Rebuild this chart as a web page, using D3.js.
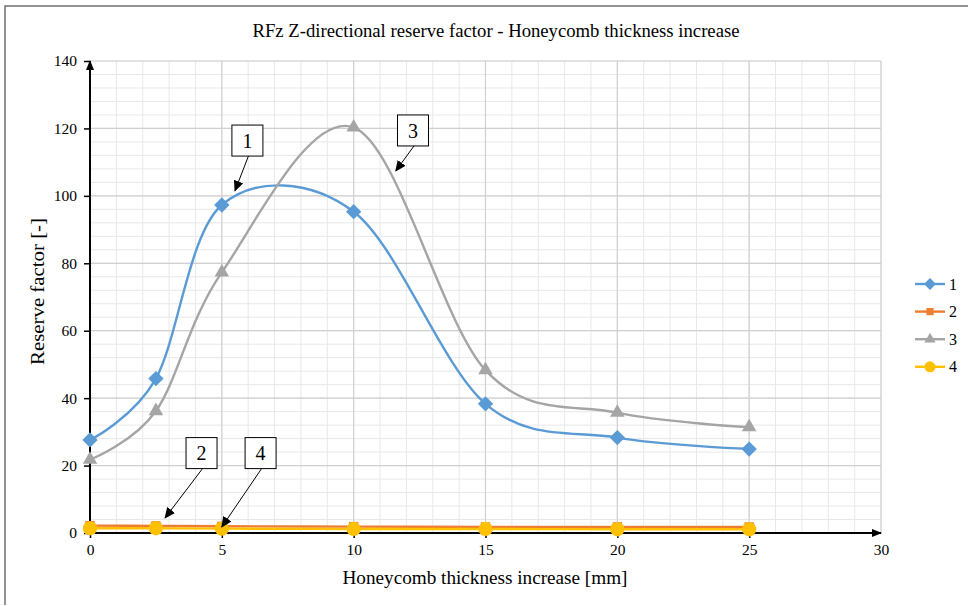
<!DOCTYPE html>
<html>
<head>
<meta charset="utf-8">
<script src="https://cdn.jsdelivr.net/npm/d3@7"></script>
<style>
  html, body { margin: 0; padding: 0; background: #fff; }
  svg { display: block; font-family: "Liberation Serif", "Times New Roman", serif; }
</style>
</head>
<body>
<svg id="chart" width="968" height="606"></svg>
<script>
// Thickness increase [mm] sampled for every case
const thickness = [0, 2.5, 5, 10, 15, 20, 25];

// Reserve factor for each case
const rf1 = [27.6, 45.8, 97.3, 95.3, 38.3, 28.3, 24.9];
const rf2 = [2.2, 2.1, 2.0, 1.9, 1.8, 1.8, 1.8];
const rf3 = [21.8, 36.2, 77.3, 120.3, 48.3, 35.7, 31.4];
const rf4 = [1.4, 1.4, 1.3, 1.2, 1.2, 1.1, 1.1];

const seriesNames = ["1", "2", "3", "4"];
const seriesColors = ["#5B9BD5", "#ED7D31", "#A5A5A5", "#FFC000"];
const seriesSymbols = [d3.symbolDiamond2, d3.symbolSquare2, d3.symbolTriangle2, d3.symbolCircle];

const xTicks = [0, 5, 10, 15, 20, 25, 30];
const yTicks = [0, 20, 40, 60, 80, 100, 120, 140];

// Callout boxes: label, box centre and arrow tip in data units
const callouts = [
  { label: "1", bx: 5.97, by: 116.4, tx: 5.5, ty: 101.5 },
  { label: "3", bx: 12.25, by: 119.4, tx: 11.6, ty: 107.4 },
  { label: "2", bx: 4.23, by: 23.7, tx: 2.85, ty: 4.5 },
  { label: "4", bx: 6.47, by: 23.7, tx: 5.0, ty: 1.8 }
];

const series = seriesNames.map((name, i) => ({
  name,
  color: seriesColors[i],
  symbol: seriesSymbols[i],
  values: [rf1, rf2, rf3, rf4][i].map((v, j) => ({ x: thickness[j], y: v }))
}));

const svg = d3.select("#chart");
const margin = { left: 90, right: 87, top: 61, bottom: 73 };
const W = 968, H = 606;

const x = d3.scaleLinear().domain([0, 30]).range([margin.left, W - margin.right]);
const y = d3.scaleLinear().domain([0, 140]).range([H - margin.bottom, margin.top]);

// Frame of the chart area (top and left edges)
svg.append("path")
  .attr("d", `M5,605 V6 H968`)
  .attr("fill", "none").attr("stroke", "#707070").attr("stroke-width", 1.5);

const defs = svg.append("defs");
defs.append("marker").attr("id", "axisHead")
  .attr("viewBox", "0 0 10 10").attr("refX", 9).attr("refY", 5)
  .attr("markerWidth", 10).attr("markerHeight", 10).attr("markerUnits", "userSpaceOnUse")
  .attr("orient", "auto")
  .append("path").attr("d", "M0,1 L10,5 L0,9 Z").attr("fill", "#000");
defs.append("marker").attr("id", "calloutHead")
  .attr("viewBox", "0 0 10 10").attr("refX", 9).attr("refY", 5)
  .attr("markerWidth", 11).attr("markerHeight", 11).attr("markerUnits", "userSpaceOnUse")
  .attr("orient", "auto")
  .append("path").attr("d", "M0,0.5 L10,5 L0,9.5 Z").attr("fill", "#000");

// Minor grid
const grid = svg.append("g");
grid.selectAll("line.mx").data(d3.range(0, 31, 1)).join("line")
  .attr("x1", d => x(d)).attr("x2", d => x(d))
  .attr("y1", y(0)).attr("y2", y(140))
  .attr("stroke", "#E8E8E8").attr("stroke-width", 1);
grid.selectAll("line.my").data(d3.range(0, 141, 4)).join("line")
  .attr("x1", x(0)).attr("x2", x(30))
  .attr("y1", d => y(d)).attr("y2", d => y(d))
  .attr("stroke", "#E8E8E8").attr("stroke-width", 1);
// Major grid
grid.selectAll("line.Mx").data(xTicks).join("line")
  .attr("x1", d => x(d)).attr("x2", d => x(d))
  .attr("y1", y(0)).attr("y2", y(140))
  .attr("stroke", "#D0D0D0").attr("stroke-width", 1.2);
grid.selectAll("line.My").data(yTicks).join("line")
  .attr("x1", x(0)).attr("x2", x(30))
  .attr("y1", d => y(d)).attr("y2", d => y(d))
  .attr("stroke", "#D0D0D0").attr("stroke-width", 1.2);

// Axes
const xAxis = d3.axisBottom(x).tickValues(xTicks).tickSize(5).tickPadding(6).tickFormat(d3.format("d"));
const yAxis = d3.axisLeft(y).tickValues(yTicks).tickSize(6).tickPadding(7).tickFormat(d3.format("d"));

const gx = svg.append("g").attr("transform", `translate(0,${y(0)})`).call(xAxis);
const gy = svg.append("g").attr("transform", `translate(${x(0)},0)`).call(yAxis);
[gx, gy].forEach(g => {
  g.select(".domain").remove();
  g.selectAll(".tick line").attr("stroke", "#000").attr("stroke-width", 1.5);
  g.selectAll(".tick text").attr("fill", "#000")
    .style("font-family", "'Liberation Serif', 'Times New Roman', serif").style("font-size", "15.5px");
});
gx.selectAll(".tick").filter(d => d === 30).select("line").remove();

// Axis lines with arrow heads
svg.append("line")
  .attr("x1", x(0)).attr("x2", x(30)).attr("y1", y(0)).attr("y2", y(0))
  .attr("stroke", "#000").attr("stroke-width", 2).attr("marker-end", "url(#axisHead)");
svg.append("line")
  .attr("x1", x(0)).attr("x2", x(0)).attr("y1", y(0)).attr("y2", y(140))
  .attr("stroke", "#000").attr("stroke-width", 2).attr("marker-end", "url(#axisHead)");

// Series lines (smoothed)
const line = d3.line().x(d => x(d.x)).y(d => y(d.y)).curve(d3.curveCardinal.tension(0));
const gs = svg.append("g");
series.forEach(s => {
  gs.append("path").datum(s.values)
    .attr("d", line).attr("fill", "none")
    .attr("stroke", s.color).attr("stroke-width", 2.4);
});
const markerSize = { "1": 150, "2": 110, "3": 150, "4": 160 };
series.forEach(s => {
  gs.selectAll(null).data(s.values).join("path")
    .attr("transform", d => `translate(${x(d.x)},${y(d.y)})`)
    .attr("d", d3.symbol().type(s.symbol).size(markerSize[s.name]))
    .attr("fill", s.color);
});

// Callouts
const cg = svg.append("g");
callouts.forEach(c => {
  const cx = x(c.bx), cy = y(c.by), half = 15.5;
  cg.append("line")
    .attr("x1", cx + (c.tx < c.bx ? 1 : 0)).attr("y1", cy + half)
    .attr("x2", x(c.tx)).attr("y2", y(c.ty))
    .attr("stroke", "#000").attr("stroke-width", 1).attr("marker-end", "url(#calloutHead)");
  cg.append("rect")
    .attr("x", cx - half).attr("y", cy - half).attr("width", half * 2).attr("height", half * 2)
    .attr("fill", "#fff").attr("stroke", "#000").attr("stroke-width", 1);
  cg.append("text")
    .attr("x", cx).attr("y", cy).attr("dy", "0.36em")
    .attr("text-anchor", "middle").style("font-size", "20px").text(c.label);
});

// Title and axis titles
svg.append("text").attr("x", 496).attr("y", 37).attr("text-anchor", "middle")
  .attr("textLength", 487).attr("lengthAdjust", "spacingAndGlyphs")
  .style("font-size", "18.5px").text("RFz Z-directional reserve factor - Honeycomb thickness increase");
svg.append("text").attr("x", 485).attr("y", 584).attr("text-anchor", "middle")
  .attr("textLength", 285).attr("lengthAdjust", "spacingAndGlyphs")
  .style("font-size", "18.5px").text("Honeycomb thickness increase [mm]");
svg.append("text")
  .attr("transform", `translate(44,291.5) rotate(-90)`)
  .attr("text-anchor", "middle")
  .attr("textLength", 147).attr("lengthAdjust", "spacingAndGlyphs")
  .style("font-size", "18.5px").text("Reserve factor [-]");

// Legend
const legend = svg.append("g").attr("transform", "translate(915,284)");
series.forEach((s, i) => {
  const g = legend.append("g").attr("transform", `translate(0,${i * 27.6})`);
  g.append("line").attr("x1", 0).attr("x2", 30).attr("stroke", s.color).attr("stroke-width", 2.4);
  g.append("path").attr("transform", "translate(15,0)")
    .attr("d", d3.symbol().type(s.symbol).size(markerSize[s.name] * 0.6)).attr("fill", s.color);
  g.append("text").attr("x", 34).attr("dy", "0.35em").style("font-size", "16px").text(s.name);
});
</script>
</body>
</html>
